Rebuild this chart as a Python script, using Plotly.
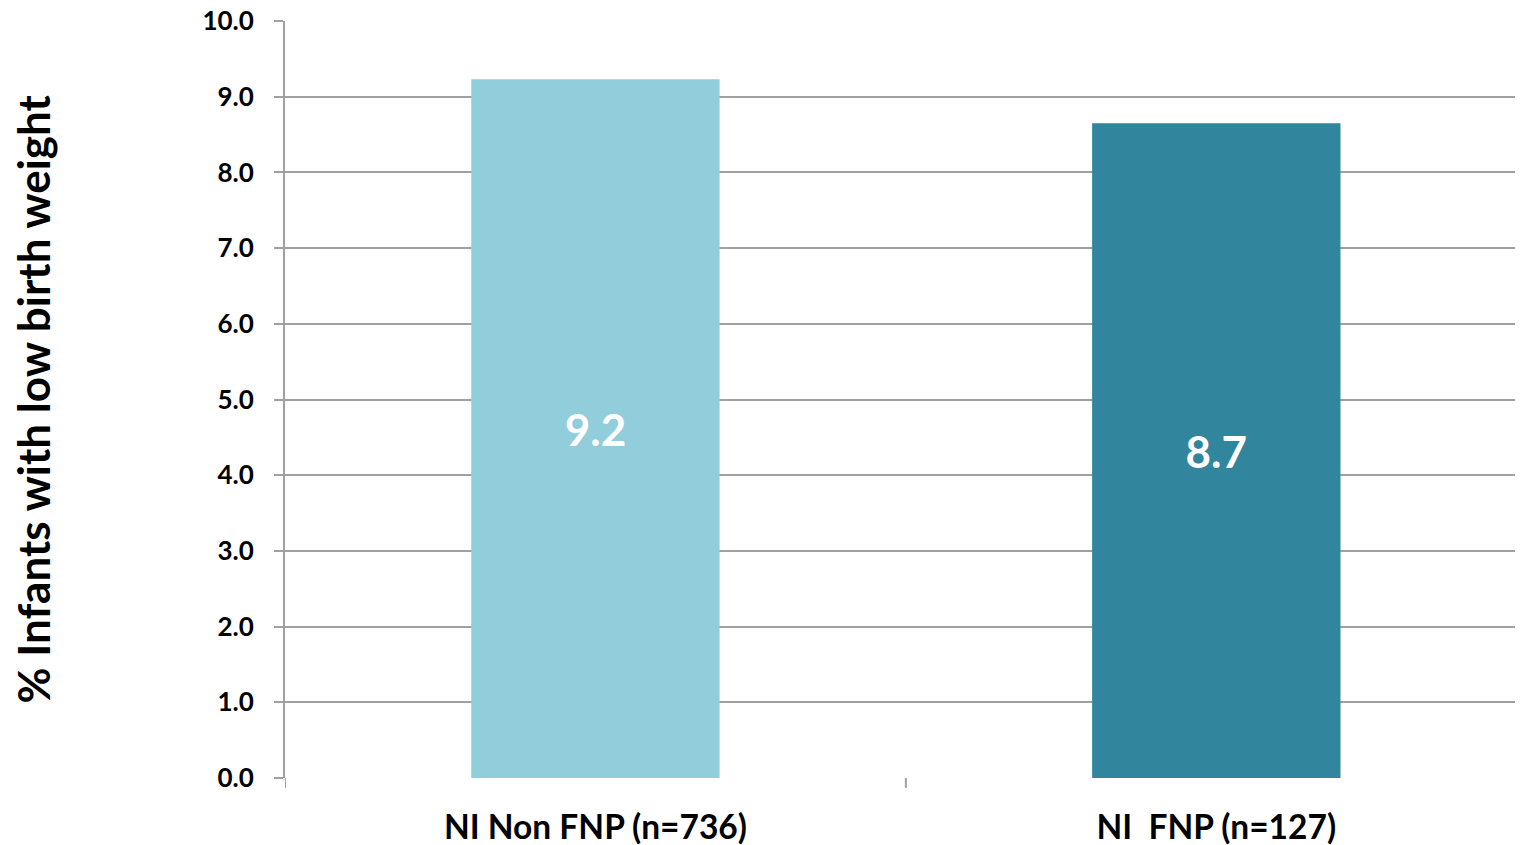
import plotly.graph_objects as go

categories = ["NI Non FNP (n=736)", "NI\u00a0 FNP (n=127)"]
values = [9.23, 8.65]
labels = ["9.2", "8.7"]
colors = ["#92CDDC", "#31859C"]
y_ticks = [0, 1, 2, 3, 4, 5, 6, 7, 8, 9, 10]
y_tick_text = [f"{v:.1f}" for v in y_ticks]
y_title = "% Infants with low birth weight"

FONT = "Lato, 'Open Sans', Arial, sans-serif"

# page body has an 8px default margin; size the figure to fill the window
W, H = 1515, 837
ML, MR, MT, MB = 277, 0, 13, 67
plot_w = W - ML - MR

fig = go.Figure(
    go.Bar(
        x=list(range(len(categories))),
        y=values,
        marker=dict(color=colors, line=dict(width=0)),
        width=0.4,
        text=labels,
        textposition="inside",
        insidetextanchor="middle",
        textangle=0,
        textfont=dict(family=FONT, size=44, color="white", weight="bold"),
        hoverinfo="skip",
    )
)

fig.update_layout(
    width=W,
    height=H,
    margin=dict(l=ML, r=MR, t=MT, b=MB, autoexpand=False),
    paper_bgcolor="white",
    plot_bgcolor="white",
    showlegend=False,
    font=dict(family=FONT, color="black"),
)

fig.update_xaxes(
    automargin=False,
    range=[-0.5, 1.494],
    tickmode="array",
    tickvals=list(range(len(categories))),
    ticktext=categories,
    tickfont=dict(family=FONT, size=33.5, color="black", weight="bold"),
    ticklabelstandoff=26,
    ticklabeloverflow="allow",
    showgrid=False,
    showline=False,
    ticks="",
    zeroline=False,
)

fig.update_yaxes(
    automargin=False,
    range=[0, 10],
    tickmode="array",
    tickvals=y_ticks,
    ticktext=y_tick_text,
    tickfont=dict(family=FONT, size=26, color="black", weight="bold"),
    ticklabeloverflow="allow",
    showgrid=True,
    gridcolor="#A0A0A0",
    gridwidth=2,
    zeroline=False,
    showline=True,
    linecolor="#A0A0A0",
    linewidth=2,
    ticks="outside",
    ticklen=9,
    tickwidth=2,
    tickcolor="#A0A0A0",
    ticklabelstandoff=15,
)

fig.add_annotation(
    text=y_title,
    textangle=-90,
    xref="paper", yref="paper",
    x=(24 - ML) / plot_w, y=0.5,
    xanchor="center", yanchor="middle",
    showarrow=False,
    font=dict(family=FONT, size=44, color="black", weight="bold"),
)

# category boundary tick marks on the x axis baseline
for xb in [-0.5, 0.5]:
    fig.add_shape(
        type="line", xref="x", yref="paper",
        x0=xb, x1=xb, y0=0, y1=-0.013,
        line=dict(color="#A0A0A0", width=2),
    )

fig.write_html("out.html")
